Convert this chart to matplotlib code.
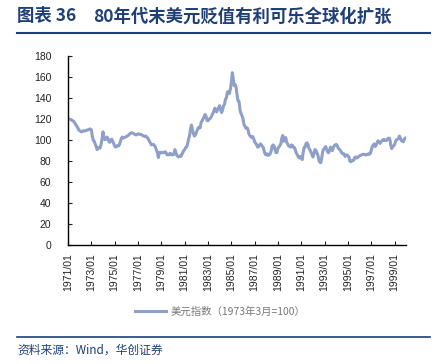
import matplotlib
matplotlib.use('Agg')
import matplotlib.pyplot as plt
import pandas as pd

plt.rcParams['font.family'] = ['Liberation Sans', 'Noto Sans CJK SC', 'DejaVu Sans']

# monthly dollar index (1973/03 = 100)
y1971 = [120.5, 120.3, 120.0, 119.8, 119.0, 118.5, 118.0, 116.5, 115.0, 113.5, 112.0, 110.0]
y1972 = [109.0, 108.5, 108.0, 108.5, 109.0, 108.8, 109.2, 109.5, 109.7, 110.0, 110.5, 110.8]
y1973 = [110.0, 104.0, 100.0, 99.0, 96.5, 94.0, 91.0, 92.5, 93.0, 92.5, 96.0, 101.0]
y1974 = [108.0, 102.0, 100.5, 101.0, 103.0, 102.0, 99.0, 98.0, 100.0, 101.0, 99.0, 97.0]
y1975 = [94.5, 93.5, 94.0, 95.0, 94.5, 96.0, 99.0, 102.0, 103.0, 102.0, 102.5, 103.0]
y1976 = [103.5, 104.0, 104.5, 105.5, 106.5, 107.0, 107.0, 106.5, 106.0, 105.5, 105.0, 105.5]
y1977 = [106.0, 106.0, 105.5, 105.5, 105.0, 104.5, 104.0, 103.5, 104.0, 103.0, 102.0, 100.5]
y1978 = [98.5, 97.0, 95.5, 96.0, 96.0, 95.0, 93.5, 90.5, 88.0, 83.5, 88.5, 88.0]
y1979 = [88.5, 88.0, 88.0, 88.5, 89.0, 88.0, 86.0, 86.5, 86.0, 87.5, 87.0, 86.0]
y1980 = [86.0, 87.0, 91.0, 88.0, 85.5, 84.5, 84.0, 85.0, 84.5, 86.0, 88.0, 90.0]
y1981 = [91.0, 93.0, 93.5, 96.0, 101.0, 104.0, 110.0, 114.5, 110.0, 106.5, 104.0, 105.0]
y1982 = [107.5, 110.0, 112.0, 111.5, 112.0, 117.0, 118.5, 120.5, 122.0, 124.5, 123.0, 119.0]
y1983 = [118.5, 120.0, 120.5, 121.5, 123.5, 125.5, 127.5, 130.5, 129.0, 127.0, 129.5, 131.5]
y1984 = [133.0, 129.0, 126.5, 128.5, 133.0, 134.0, 139.0, 140.5, 146.0, 146.5, 144.5, 148.5]
y1985 = [155.0, 164.5, 159.0, 152.0, 153.0, 150.5, 143.0, 137.5, 137.0, 128.5, 125.5, 123.5]
y1986 = [120.5, 115.0, 113.5, 111.5, 112.0, 111.0, 106.5, 104.5, 103.5, 102.5, 103.5, 101.5]
y1987 = [98.5, 97.0, 96.0, 93.5, 93.5, 95.5, 96.5, 95.5, 94.0, 93.0, 89.0, 86.5]
y1988 = [86.0, 87.0, 85.5, 86.0, 87.0, 89.5, 94.5, 95.5, 94.5, 91.0, 88.0, 88.5]
y1989 = [92.5, 93.5, 95.0, 96.5, 102.0, 104.5, 99.0, 101.0, 102.5, 98.0, 96.5, 94.5]
y1990 = [94.0, 93.5, 95.5, 95.0, 93.0, 93.0, 90.5, 87.5, 86.0, 84.0, 83.0, 84.5]
y1991 = [83.0, 81.5, 88.5, 93.0, 93.5, 97.0, 97.5, 95.5, 92.0, 90.5, 88.5, 86.5]
y1992 = [84.0, 87.5, 91.0, 90.5, 88.0, 86.0, 81.5, 79.0, 78.5, 83.0, 89.0, 91.5]
y1993 = [92.5, 94.0, 91.5, 89.0, 88.0, 90.0, 93.5, 91.5, 90.0, 93.0, 95.0, 95.5]
y1994 = [96.0, 94.5, 92.5, 91.5, 90.5, 89.0, 87.5, 87.0, 87.0, 84.5, 85.5, 86.0]
y1995 = [85.0, 84.0, 80.0, 79.5, 80.5, 80.5, 81.0, 83.5, 84.0, 83.0, 83.5, 84.5]
y1996 = [85.0, 85.5, 86.0, 86.5, 86.5, 86.5, 86.0, 86.0, 86.5, 87.0, 86.5, 87.5]
y1997 = [90.5, 94.0, 95.0, 96.5, 94.0, 95.5, 97.5, 99.5, 98.0, 97.0, 98.5, 99.5]
y1998 = [100.5, 100.0, 100.5, 99.5, 100.0, 101.5, 102.0, 101.5, 95.5, 92.0, 94.0, 94.5]
y1999 = [96.0, 99.0, 100.5, 101.0, 101.5, 104.0, 102.0, 99.5, 99.0, 98.5, 101.0, 102.0]

values = (y1971 + y1972 + y1973 + y1974 + y1975 + y1976 + y1977 + y1978 + y1979 + y1980
          + y1981 + y1982 + y1983 + y1984 + y1985 + y1986 + y1987 + y1988 + y1989 + y1990
          + y1991 + y1992 + y1993 + y1994 + y1995 + y1996 + y1997 + y1998 + y1999)
dates = pd.date_range('1971-01-01', periods=len(values), freq='MS')
tick_years = list(range(1971, 2000, 2))

navy = '#1F3F77'
line_color = '#8E9FC9'
cjk = ['Noto Sans CJK SC', 'DejaVu Sans']

fig = plt.figure(figsize=(4.4, 3.64), dpi=100)
ax = fig.add_axes([0.1545, 0.327, 0.768, 0.518])

ax.plot(dates, values, color=line_color, lw=2.2, label='美元指数（1973年3月=100）')

ax.set_ylim(0, 180)
ax.set_yticks(range(0, 181, 20))
ax.set_xlim(pd.Timestamp('1971-01-01'), pd.Timestamp('1999-12-20'))
ticks = [pd.Timestamp(f'{y}-01-01') for y in tick_years]
ax.set_xticks(ticks)
ax.set_xticklabels([f'{y}/01' for y in tick_years], rotation=90)

for s in ['top', 'right']:
    ax.spines[s].set_visible(False)
for s in ['left', 'bottom']:
    ax.spines[s].set_linewidth(1.0)
ax.tick_params(axis='y', direction='in', length=3, pad=12, labelsize=7.5, colors='#222222')
ax.tick_params(axis='x', direction='in', length=3, pad=6, labelsize=7.5, colors='#222222')

fig.legend(loc='center', bbox_to_anchor=(0.5, 0.143), frameon=False,
           handlelength=3.0, handletextpad=0.4,
           prop={'family': cjk, 'size': 7.5}, labelcolor='#777777')

# header and footer
fig.text(0.039, 0.955, '图表 36', family=cjk, fontsize=12.5, weight='bold',
         color=navy, va='center', ha='left')
fig.text(0.211, 0.955, '80年代末美元贬值有利可乐全球化扩张', family=cjk, fontsize=12.5,
         weight='bold', color=navy, va='center', ha='left')
fig.add_artist(plt.Line2D([0.039, 0.977], [0.909, 0.909], color=navy, lw=1.5))
fig.add_artist(plt.Line2D([0.039, 0.977], [0.074, 0.074], color=navy, lw=1.2))
fig.text(0.039, 0.037, '资料来源：Wind，华创证券', family=cjk,
         fontsize=8.5, style='italic', color=navy, va='center', ha='left')

fig.savefig('out.png', dpi=100)
